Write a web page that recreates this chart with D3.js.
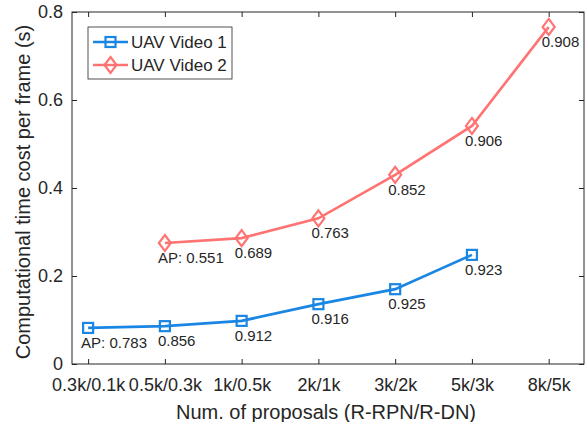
<!DOCTYPE html>
<html>
<head>
<meta charset="utf-8">
<script src="https://cdn.jsdelivr.net/npm/d3@7"></script>
<style>
body { margin: 0; background: #fff; }
text { font-family: "Liberation Sans", Arial, sans-serif; fill: #262626; }
</style>
</head>
<body>
<div id="chart"></div>
<script>
// x categories (tick labels)
var cats = ["0.3k/0.1k", "0.5k/0.3k", "1k/0.5k", "2k/1k", "3k/2k", "5k/3k", "8k/5k"]
// time cost per frame (s)
var video1 = [0.082, 0.086, 0.098, 0.136, 0.170, 0.248]
var video1AP = ["AP: 0.783", "0.856", "0.912", "0.916", "0.925", "0.923"]
var video2 = [null, 0.275, 0.286, 0.331, 0.430, 0.541, 0.766]
var video2AP = [null, "AP: 0.551", "0.689", "0.763", "0.852", "0.906", "0.908"]
var yTicks = [0, 0.2, 0.4, 0.6, 0.8]

var w = 585, h = 422
var blue = "#1a86e4", red = "#ff7373"

var svg = d3.select("#chart").append("svg")
  .attr("width", w).attr("height", h)

// plot box
var L = 72, R = 584, T = 12, B = 364
var x = d3.scaleLinear().domain([0.79, 7.46]).range([L, R])
var y = d3.scaleLinear().domain([0, 0.8]).range([B, T])

// box
svg.append("rect")
  .attr("x", L).attr("y", T).attr("width", R - L).attr("height", B - T)
  .attr("fill", "none").attr("stroke", "#262626").attr("stroke-width", 1)

var xAxis = d3.axisBottom(x).tickValues(d3.range(1, 8))
  .tickFormat(d => cats[d - 1]).tickSizeInner(-5).tickSizeOuter(0).tickPadding(14)
var gx = svg.append("g").attr("transform", "translate(0," + B + ")").call(xAxis)
gx.select(".domain").remove()
gx.selectAll("line").attr("stroke", "#262626")
gx.selectAll("text").attr("font-size", 18).style("fill", "#262626")

var gxTop = svg.append("g").attr("transform", "translate(0," + T + ")")
  .call(d3.axisTop(x).tickValues(d3.range(1, 8)).tickSizeInner(-5).tickSizeOuter(0).tickFormat(""))
gxTop.select(".domain").remove()
gxTop.selectAll("line").attr("stroke", "#262626")

var yAxis = d3.axisLeft(y).tickValues(yTicks).tickFormat(d => d === 0 ? "0" : d3.format(".1f")(d))
  .tickSizeInner(-5).tickSizeOuter(0).tickPadding(9)
var gy = svg.append("g").attr("transform", "translate(" + L + ",0)").call(yAxis)
gy.select(".domain").remove()
gy.selectAll("line").attr("stroke", "#262626")
gy.selectAll("text").attr("font-size", 18).style("fill", "#262626")

var gyR = svg.append("g").attr("transform", "translate(" + R + ",0)")
  .call(d3.axisRight(y).tickValues(yTicks).tickSizeInner(-5).tickSizeOuter(0).tickFormat(""))
gyR.select(".domain").remove()
gyR.selectAll("line").attr("stroke", "#262626")

// axis labels
svg.append("text").attr("x", (L + R) / 2 - 2).attr("y", 419)
  .attr("text-anchor", "middle").attr("font-size", 20).text("Num. of proposals (R-RPN/R-DN)")
svg.append("text").attr("transform", "translate(30,192) rotate(-90)")
  .attr("text-anchor", "middle").attr("font-size", 20).text("Computational time cost per frame (s)")

var line = d3.line().defined(d => d[1] != null).x(d => x(d[0])).y(d => y(d[1]))

var d1 = video1.map((v, i) => [i + 1, v, video1AP[i]])
var d2 = video2.map((v, i) => [i + 1, v, video2AP[i]]).filter(d => d[1] != null)

svg.append("path").datum(d2).attr("d", line)
  .attr("fill", "none").attr("stroke", red).attr("stroke-width", 2.7)
svg.append("path").datum(d1).attr("d", line)
  .attr("fill", "none").attr("stroke", blue).attr("stroke-width", 2.7)

var diamond = "M0,-8L6,0L0,8L-6,0Z"
svg.append("g").selectAll("path").data(d2).enter().append("path")
  .attr("d", diamond)
  .attr("transform", d => "translate(" + x(d[0]) + "," + y(d[1]) + ")")
  .attr("fill", "none").attr("stroke", red).attr("stroke-width", 2.2)
svg.append("g").selectAll("rect").data(d1).enter().append("rect")
  .attr("x", d => x(d[0]) - 5).attr("y", d => y(d[1]) - 5)
  .attr("width", 10).attr("height", 10)
  .attr("fill", "none").attr("stroke", blue).attr("stroke-width", 2.2)

// AP labels
svg.append("g").selectAll("text").data(d1.concat(d2)).enter().append("text")
  .attr("x", d => x(d[0]) - 7).attr("y", d => y(d[1]) + 20)
  .attr("font-size", 15).text(d => d[2])

// legend
var lg = svg.append("g").attr("transform", "translate(88,27)")
lg.append("rect").attr("width", 144).attr("height", 52)
  .attr("fill", "#fff").attr("stroke", "#262626").attr("stroke-width", 0.8)
var leg = [{name: "UAV Video 1", c: blue, m: "sq"}, {name: "UAV Video 2", c: red, m: "di"}]
leg.forEach(function(s, i) {
  var yy = 15 + i * 23
  lg.append("line").attr("x1", 5).attr("x2", 40).attr("y1", yy).attr("y2", yy)
    .attr("stroke", s.c).attr("stroke-width", 2.7)
  if (s.m == "sq") {
    lg.append("rect").attr("x", 17.5).attr("y", yy - 5).attr("width", 10).attr("height", 10)
      .attr("fill", "none").attr("stroke", s.c).attr("stroke-width", 2.2)
  } else {
    lg.append("path").attr("d", diamond).attr("transform", "translate(22.5," + yy + ")")
      .attr("fill", "none").attr("stroke", s.c).attr("stroke-width", 2.2)
  }
  lg.append("text").attr("x", 43).attr("y", yy + 6).attr("font-size", 17).text(s.name)
})
</script>
</body>
</html>
